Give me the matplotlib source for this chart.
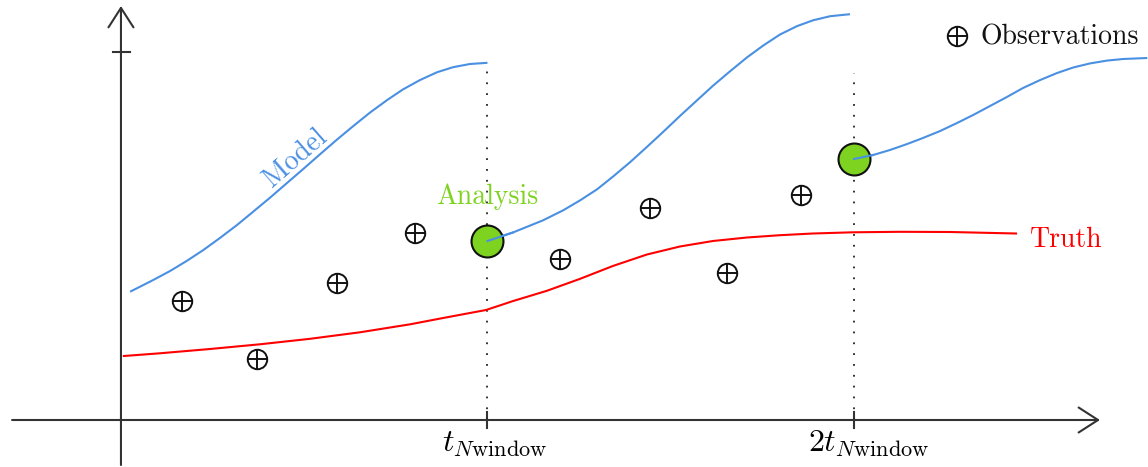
import numpy as np
import matplotlib.pyplot as plt

plt.rcParams['mathtext.fontset'] = 'cm'
plt.rcParams['axes.unicode_minus'] = False

# time in units of one assimilation window, state in arbitrary units
model1_t = [0.025, 0.087, 0.134, 0.180, 0.224, 0.270, 0.317, 0.360, 0.407, 0.453,
            0.497, 0.543, 0.589, 0.633, 0.679, 0.726, 0.769, 0.816, 0.862, 0.906,
            0.952, 1.0]
model1_y = [1.283, 1.398, 1.490, 1.592, 1.698, 1.820, 1.951, 2.081, 2.224, 2.370,
            2.509, 2.657, 2.803, 2.937, 3.073, 3.199, 3.305, 3.400, 3.477, 3.528,
            3.560, 3.572]

model2_t = [1.0, 1.070, 1.151, 1.206, 1.252, 1.299, 1.342, 1.389, 1.435, 1.479,
            1.525, 1.572, 1.615, 1.662, 1.708, 1.752, 1.798, 1.844, 1.888, 1.935,
            1.989]
model2_y = [1.790, 1.876, 1.996, 2.096, 2.195, 2.307, 2.433, 2.578, 2.731, 2.880,
            3.040, 3.198, 3.342, 3.488, 3.626, 3.744, 3.855, 3.938, 3.997, 4.038,
            4.058]

model3_t = [2.0, 2.052, 2.098, 2.145, 2.188, 2.235, 2.281, 2.325, 2.371, 2.417,
            2.461, 2.508, 2.554, 2.598, 2.644, 2.690, 2.734, 2.800]
model3_y = [2.61, 2.65, 2.70, 2.76, 2.82, 2.89, 2.97, 3.05, 3.14, 3.23,
            3.32, 3.40, 3.47, 3.525, 3.566, 3.594, 3.610, 3.620]

truth_t = [0.008, 0.106, 0.243, 0.379, 0.516, 0.652, 0.789, 0.879, 0.996, 1.070,
           1.162, 1.252, 1.342, 1.435, 1.525, 1.615, 1.708, 1.798, 1.888, 1.997,
           2.125, 2.262, 2.442]
truth_y = [0.640, 0.667, 0.710, 0.757, 0.812, 0.877, 0.957, 1.020, 1.100, 1.190,
           1.292, 1.411, 1.540, 1.655, 1.735, 1.790, 1.825, 1.848, 1.865, 1.877,
           1.882, 1.880, 1.865]

obs_t = [0.166, 0.371, 0.589, 0.802, 1.198, 1.443, 1.653, 1.855]
obs_y = [1.19, 0.61, 1.37, 1.87, 1.61, 2.12, 1.47, 2.25]

analysis_t = [1.0, 2.0]
analysis_y = [1.79, 2.61]

window_ticks = [1.0, 2.0]
window_labels = [r'$t_{N\mathrm{window}}$', r'$2t_{N\mathrm{window}}$']

blue = '#4a90e2'
red = '#ff0000'
green = '#7ed321'
axis_col = '#333333'
ink = '#111111'
serif = 'cmr10'

fig = plt.figure(figsize=(11.48, 4.67), dpi=100)
ax = fig.add_axes([0, 0, 1, 1])
ax.set_xlim(-0.330, 2.802)
ax.set_ylim(-0.47, 4.20)
ax.axis('off')

# axes with open arrow heads
arrow = dict(arrowstyle='->,head_length=0.7,head_width=0.45', color=axis_col,
             lw=1.5, mutation_scale=20, shrinkA=0, shrinkB=0)
ax.annotate('', xy=(2.671, 0), xytext=(-0.297, 0), arrowprops=arrow)
ax.annotate('', xy=(0, 4.14), xytext=(0, -0.45), arrowprops=arrow)
ax.plot([-0.022, 0.025], [3.68, 3.68], color=axis_col, lw=1.5)
for t, lab in zip(window_ticks, window_labels):
    ax.plot([t, t], [-0.08, 0.08], color=axis_col, lw=1.5)
    ax.text(t + 0.02 * t, -0.08, lab, ha='center', va='top', fontsize=23)

# window boundaries
ax.plot([1.0, 1.0], [0, 3.57], color='#222222', lw=1.3, ls=(0, (1, 5)))
ax.plot([2.0, 2.0], [0, 3.47], color='#222222', lw=1.3, ls=(0, (1, 5)))

ax.plot(truth_t, truth_y, color=red, lw=1.5)
for mt, my in [(model1_t, model1_y), (model2_t, model2_y), (model3_t, model3_y)]:
    ax.plot(mt, my, color=blue, lw=1.5, solid_capstyle='butt')

ax.plot(analysis_t, analysis_y, 'o', ms=23, mfc=green, mec=ink, mew=1.5, zorder=3)
ax.plot(model2_t[:2], model2_y[:2], color=blue, lw=1.5, zorder=4)
ax.plot(model3_t[:2], model3_y[:2], color=blue, lw=1.5, zorder=4)

# observations drawn as circled plus signs
ax.plot(obs_t, obs_y, 'o', ms=14, mfc='none', mec=ink, mew=1.4)
ax.plot(obs_t, obs_y, '+', ms=14, mec=ink, mew=1.4)

ax.text(0.477, 2.62, 'Model', color=blue, fontsize=20, family=serif,
        rotation=41, rotation_mode='anchor', ha='center', va='center')
ax.text(1.0, 2.23, 'Analysis', color=green, fontsize=20, family=serif,
        ha='center', va='center')
ax.text(2.480, 1.80, 'Truth', color=red, fontsize=20, family=serif,
        ha='left', va='center')

ax.plot([2.281], [3.84], 'o', ms=14, mfc='none', mec=ink, mew=1.4)
ax.plot([2.281], [3.84], '+', ms=14, mec=ink, mew=1.4)
ax.text(2.344, 3.83, 'Observations', color=ink, fontsize=20, family=serif,
        ha='left', va='center')

fig.savefig('out.png', dpi=100)
